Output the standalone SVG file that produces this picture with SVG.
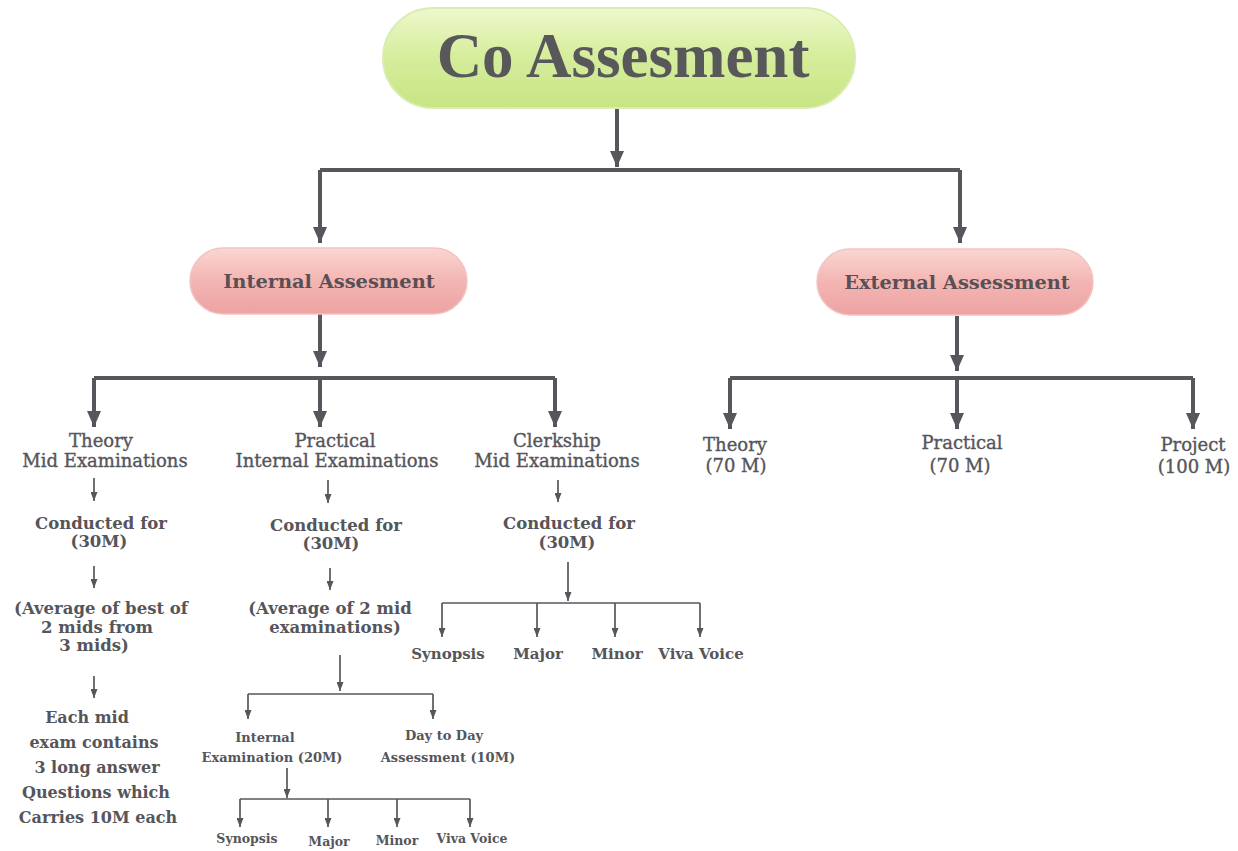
<svg xmlns="http://www.w3.org/2000/svg" width="1238" height="851" viewBox="0 0 1238 851">
<defs>
<linearGradient id="gGreen" x1="0" y1="0" x2="0" y2="1">
<stop offset="0" stop-color="#eef8cc"/><stop offset="0.45" stop-color="#d7ee9f"/><stop offset="1" stop-color="#c8e483"/>
</linearGradient>
<linearGradient id="gPink" x1="0" y1="0" x2="0" y2="1">
<stop offset="0" stop-color="#fad6d3"/><stop offset="0.5" stop-color="#f3b5b2"/><stop offset="1" stop-color="#eca3a2"/>
</linearGradient>
<marker id="big" markerUnits="userSpaceOnUse" markerWidth="16" markerHeight="14" refX="16" refY="7" orient="auto"><path d="M0,0 L16,7 L0,14 z" fill="#55575c"/></marker>
<marker id="small" markerUnits="userSpaceOnUse" markerWidth="9" markerHeight="7" refX="9" refY="3.5" orient="auto"><path d="M0,0 L9,3.5 L0,7 z" fill="#55575c"/></marker>
<style>
.thick{stroke:#55575c;stroke-width:4;fill:none}
.thin{stroke:#55575c;stroke-width:1.7;fill:none}
.ab{marker-end:url(#big)}
.as{marker-end:url(#small)}
text{font-family:"DejaVu Serif","Liberation Serif",serif;fill:#55555a;text-anchor:middle}
.title{font-family:"Liberation Serif",serif;font-weight:bold;font-size:63px;fill:#58585a}
.pill{font-weight:bold;font-size:19.4px;fill:#5a4f55}
.lab{font-size:18px;stroke:#55555a;stroke-width:0.35}
.b{font-weight:bold;font-size:16.5px}
.e{font-weight:bold;font-size:16px}
.s{font-weight:bold;font-size:15px}
.m{font-weight:bold;font-size:13px}
.t{font-weight:bold;font-size:12.5px}
</style>
</defs>
<rect width="1238" height="851" fill="#ffffff"/>

<g id="connectors">
<path class="thick ab" d="M617,108 V167"/>
<path class="thick" d="M320,170 H960"/>
<path class="thick ab" d="M320,170 V243"/>
<path class="thick ab" d="M960,170 V243"/>
<path class="thick ab" d="M320,314 V367"/>
<path class="thick" d="M94,378 H555"/>
<path class="thick ab" d="M94,378 V427"/>
<path class="thick ab" d="M320,378 V427"/>
<path class="thick ab" d="M555,378 V427"/>
<path class="thick ab" d="M957,316 V371"/>
<path class="thick" d="M730,378 H1193"/>
<path class="thick ab" d="M730,378 V429"/>
<path class="thick ab" d="M957,378 V429"/>
<path class="thick ab" d="M1193,378 V429"/>
<path class="thin as" d="M94,478 V501"/>
<path class="thin as" d="M328,480 V503"/>
<path class="thin as" d="M558,480 V502"/>
<path class="thin as" d="M94,566 V588"/>
<path class="thin as" d="M330,568 V590"/>
<path class="thin as" d="M94,676 V698"/>
<path class="thin as" d="M340,655 V691"/>
<path class="thin" d="M248,694 H433"/>
<path class="thin as" d="M248,694 V719"/>
<path class="thin as" d="M433,694 V719"/>
<path class="thin as" d="M568,562 V601"/>
<path class="thin" d="M442,603 H700"/>
<path class="thin as" d="M442,603 V637"/>
<path class="thin as" d="M537,603 V637"/>
<path class="thin as" d="M615,603 V637"/>
<path class="thin as" d="M700,603 V637"/>
<path class="thin as" d="M287,768 V798"/>
<path class="thin" d="M240,799 H470"/>
<path class="thin as" d="M240,799 V827"/>
<path class="thin as" d="M328,799 V827"/>
<path class="thin as" d="M397,799 V827"/>
<path class="thin as" d="M470,799 V827"/>
</g>

<g id="co-assessment">
<rect x="383" y="8" width="472" height="100" rx="50" fill="url(#gGreen)" stroke="#d9edb2" stroke-width="2"/>
<text class="title" x="623" y="77">Co Assesment</text>
</g>

<g id="internal-assessment">
<rect x="190" y="248" width="277" height="66" rx="33" fill="url(#gPink)" stroke="#f2c4c1" stroke-width="1.5"/>
<text class="pill" x="329" y="288">Internal Assesment</text>
</g>

<g id="external-assessment">
<rect x="817" y="249" width="276" height="66" rx="33" fill="url(#gPink)" stroke="#f2c4c1" stroke-width="1.5"/>
<text class="pill" x="957" y="289">External Assessment</text>
</g>

<g id="theory-mid">
<text class="lab" x="101" y="447">Theory</text>
<text class="lab" x="105" y="467">Mid Examinations</text>
</g>
<g id="practical-internal">
<text class="lab" x="335" y="447">Practical</text>
<text class="lab" x="337" y="467">Internal Examinations</text>
</g>
<g id="clerkship-mid">
<text class="lab" x="557" y="447">Clerkship</text>
<text class="lab" x="557" y="467">Mid Examinations</text>
</g>

<g id="ext-theory">
<text class="lab" x="735" y="451">Theory</text>
<text class="lab" x="736" y="472">(70 M)</text>
</g>
<g id="ext-practical">
<text class="lab" x="962" y="449">Practical</text>
<text class="lab" x="960" y="472">(70 M)</text>
</g>
<g id="ext-project">
<text class="lab" x="1193" y="451">Project</text>
<text class="lab" x="1194" y="473">(100 M)</text>
</g>

<g id="theory-conducted">
<text class="b" x="101" y="529">Conducted for</text>
<text class="b" x="99" y="547">(30M)</text>
</g>
<g id="practical-conducted">
<text class="b" x="336" y="531">Conducted for</text>
<text class="b" x="331" y="549">(30M)</text>
</g>
<g id="clerkship-conducted">
<text class="b" x="569" y="529">Conducted for</text>
<text class="b" x="567" y="548">(30M)</text>
</g>

<g id="theory-average">
<text class="b" x="101" y="614">(Average of best of</text>
<text class="b" x="97" y="633">2 mids from</text>
<text class="b" x="94" y="651">3 mids)</text>
</g>
<g id="practical-average">
<text class="b" x="330" y="614">(Average of 2 mid</text>
<text class="b" x="335" y="633">examinations)</text>
</g>

<g id="theory-each">
<text class="e" x="87" y="723">Each mid</text>
<text class="e" x="94" y="748">exam contains</text>
<text class="e" x="97" y="773">3 long answer</text>
<text class="e" x="96" y="798">Questions which</text>
<text class="e" x="98" y="823">Carries 10M each</text>
</g>

<g id="internal-exam-20">
<text class="m" x="265" y="742">Internal</text>
<text class="m" x="272" y="762">Examination (20M)</text>
</g>
<g id="day-to-day">
<text class="m" x="444" y="740">Day to Day</text>
<text class="m" x="448" y="762">Assessment (10M)</text>
</g>

<g id="clerk-synopsis"><text class="s" x="448" y="659">Synopsis</text></g>
<g id="clerk-major"><text class="s" x="538" y="659">Major</text></g>
<g id="clerk-minor"><text class="s" x="617" y="659">Minor</text></g>
<g id="clerk-viva"><text class="s" x="701" y="659">Viva Voice</text></g>

<g id="int-synopsis"><text class="t" x="247" y="843">Synopsis</text></g>
<g id="int-major"><text class="t" x="329" y="846">Major</text></g>
<g id="int-minor"><text class="t" x="397" y="845">Minor</text></g>
<g id="int-viva"><text class="t" x="472" y="843">Viva Voice</text></g>
</svg>
